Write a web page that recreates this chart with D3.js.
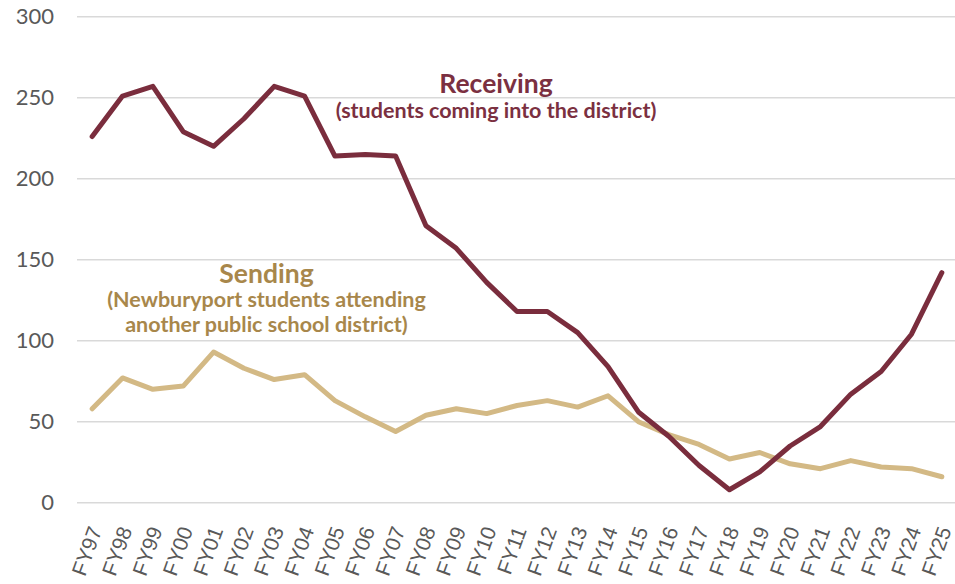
<!DOCTYPE html>
<html>
<head>
<meta charset="utf-8">
<script src="https://cdn.jsdelivr.net/npm/d3@7/dist/d3.min.js"></script>
<style>
  html, body { margin: 0; padding: 0; background: #fff; }
  svg { display: block; }
</style>
</head>
<body>
<svg id="chart" width="955" height="584"></svg>
<script>
// Fiscal years shown on the category axis
const years = ["FY97","FY98","FY99","FY00","FY01","FY02","FY03","FY04","FY05","FY06",
  "FY07","FY08","FY09","FY10","FY11","FY12","FY13","FY14","FY15","FY16",
  "FY17","FY18","FY19","FY20","FY21","FY22","FY23","FY24","FY25"];

// School choice students coming into the district
const receiving = [226,251,257,229,220,237,257,251,214,215,
  214,171,157,136,118,118,105,84,56,41,
  23,8,19,35,47,67,81,104,142];

// Newburyport students attending another public school district
const sending = [58,77,70,72,93,83,76,79,63,53,
  44,54,58,55,60,63,59,66,50,42,
  36,27,31,24,21,26,22,21,16];

const yTicks = [0,50,100,150,200,250,300];

const svg = d3.select("#chart");

const x = d3.scalePoint().domain(years).range([77, 957]).padding(0.5);
const y = d3.scaleLinear().domain([0, 300]).range([502.7, 16.7]);

// Horizontal gridlines
svg.append("g")
  .selectAll("line")
  .data(yTicks)
  .join("line")
  .attr("x1", 77).attr("x2", 955)
  .attr("y1", d => y(d)).attr("y2", d => y(d))
  .attr("stroke", "#d9d9d9")
  .attr("stroke-width", 1.5);

// Value axis labels
const yAxis = d3.axisLeft(y).tickValues(yTicks).tickSize(0).tickPadding(0);
svg.append("g")
  .attr("transform", "translate(54,0)")
  .call(yAxis)
  .call(g => g.select(".domain").remove())
  .call(g => g.selectAll("text")
    .attr("font-family", "Lato, sans-serif")
    .attr("font-size", 22)
    .attr("fill", "#595959"));

// Category axis labels, rotated; each label ends just right of its year
const xAxis = d3.axisBottom(x).tickSize(0).tickPadding(0);
svg.append("g")
  .call(xAxis)
  .call(g => g.select(".domain").remove())
  .call(g => g.selectAll(".tick").attr("transform", d => `translate(${x(d) + 10},${530})`))
  .call(g => g.selectAll("text")
    .attr("font-family", "'Liberation Sans', Arial, sans-serif")
    .attr("font-size", 21)
    .attr("fill", "#595959")
    .attr("text-anchor", "end")
    .attr("dy", 0)
    .attr("y", 0)
    .attr("transform", "rotate(-70)"));

const line = d3.line().x((d, i) => x(years[i])).y(d => y(d));

svg.append("path")
  .datum(sending)
  .attr("d", line)
  .attr("fill", "none")
  .attr("stroke", "#d3b985")
  .attr("stroke-width", 5)
  .attr("stroke-linejoin", "round")
  .attr("stroke-linecap", "round");

svg.append("path")
  .datum(receiving)
  .attr("d", line)
  .attr("fill", "none")
  .attr("stroke", "#7a2d3d")
  .attr("stroke-width", 5)
  .attr("stroke-linejoin", "round")
  .attr("stroke-linecap", "round");

// Series annotations
const notes = [
  { text: "Receiving", x: 496, y: 93, size: 26.5, color: "#7b3041" },
  { text: "(students coming into the district)", x: 496, y: 118, size: 21.5, color: "#7b3041" },
  { text: "Sending", x: 266.5, y: 283, size: 26.5, color: "#a8874b" },
  { text: "(Newburyport students attending", x: 266.5, y: 307, size: 21.5, color: "#a8874b" },
  { text: "another public school district)", x: 266.5, y: 332, size: 21.5, color: "#a8874b" }
];
svg.append("g")
  .selectAll("text")
  .data(notes)
  .join("text")
  .attr("x", d => d.x)
  .attr("y", d => d.y)
  .attr("text-anchor", "middle")
  .attr("font-family", "Lato, sans-serif")
  .attr("font-weight", "bold")
  .attr("font-size", d => d.size)
  .attr("fill", d => d.color)
  .text(d => d.text);
</script>
</body>
</html>
